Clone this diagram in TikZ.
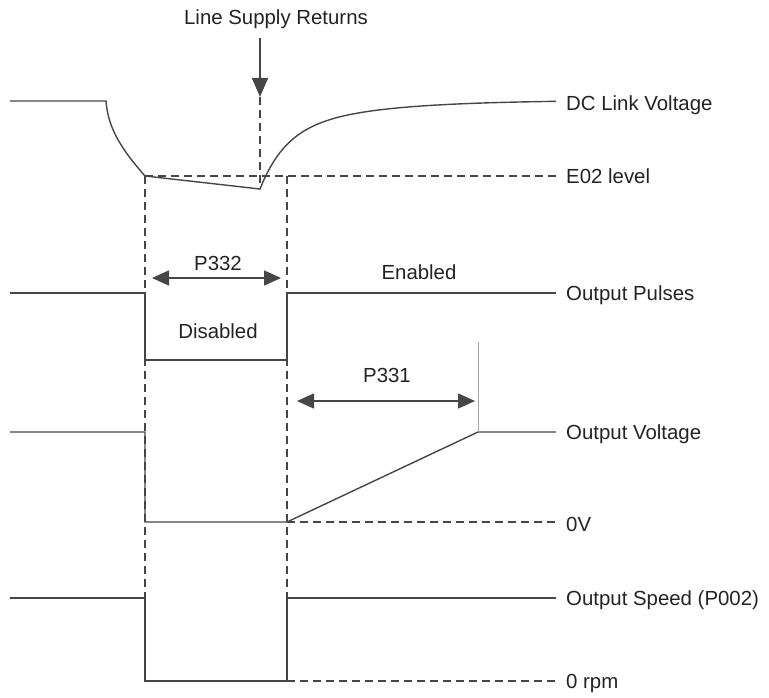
\documentclass[tikz,border=0pt]{standalone}
\usepackage{fontspec}
\setmainfont{Liberation Sans}
\usepackage{xcolor}
\definecolor{traceg}{RGB}{70,70,70}
\definecolor{labelg}{RGB}{35,35,35}
\usetikzlibrary{arrows.meta, positioning, calc}

\begin{document}
\begin{tikzpicture}[x=1pt, y=-1pt,
  trace/.style={draw=traceg, line width=1.4pt},
  guide/.style={draw=traceg, line width=1.2pt, dash pattern=on 8pt off 5pt},
  span/.style={draw=traceg, line width=1.6pt,
    {Triangle[length=17pt,width=15pt]}-{Triangle[length=17pt,width=15pt]}},
  lbl/.style={font=\fontsize{20.4}{24}\selectfont, text=labelg, inner sep=0pt}]
\useasboundingbox (0,0) rectangle (769,698);

% key instants
\coordinate (dcLow) at (145,176);
\coordinate (dcMin) at (260,189);
\coordinate (supTop) at (260,38);
\coordinate (supTip) at (260,97);
\coordinate (rampEnd) at (478,432);

% DC link voltage
\draw[trace] (10,101) -- (106,101) .. controls (108,130) and (124,152) .. (dcLow) -- (dcMin)
  -- plot[domain=260:556, samples=90]
     (\x, {100+89*(0.6*exp(-(\x-260)/25)+0.4*exp(-(\x-260)/90))});
\draw[guide] (dcLow) -- (556,176);

% line supply returns
\node[lbl, anchor=base] (supply) at (276,25) {Line Supply Returns};
\draw[trace, -{Triangle[length=19pt,width=16pt]}] (supTop) -- (supTip);
\draw[guide] (supTip) -- (dcMin);

% time markers
\draw[guide] (dcLow) -- (145,598);
\draw[guide] (287,176) -- (287,598);

% output pulses
\draw[trace] (10,293) -- (145,293) -- (145,360) -- (287,360) -- (287,293) -- (556,293);
\draw[span] (152,278) -- (281,278);
\node[lbl, anchor=base] (p332) at (218,270) {P332};
\node[lbl, anchor=base] (enabled) at (419,279) {Enabled};
\node[lbl, anchor=base] (disabled) at (218,338) {Disabled};

% output voltage
\draw[trace] (10,432) -- (145,432) -- (145,522) -- (287,522) -- (rampEnd) -- (556,432);
\draw[guide] (287,522) -- (556,522);
\draw[draw=gray!70, line width=0.9pt] (478,342) -- (rampEnd);
\draw[span] (297,401) -- (475,401);
\node[lbl, anchor=base] (p331) at (387,382) {P331};

% output speed
\draw[trace] (10,598) -- (145,598) -- (145,681) -- (287,681) -- (287,598) -- (556,598);
\draw[guide] (287,681) -- (556,681);

% signal names
\node[lbl, anchor=base west] (dclink) at (566,111) {DC Link Voltage};
\node[lbl, anchor=base west] (eo2) at (566,184) {E02 level};
\node[lbl, anchor=base west] (pulses) at (566,300) {Output Pulses};
\node[lbl, anchor=base west] (volt) at (566,439) {Output Voltage};
\node[lbl, anchor=base west] (zerov) at (566,531) {0V};
\node[lbl, anchor=base west] (speed) at (566,605) {Output Speed (P002)};
\node[lbl, anchor=base west] (zerorpm) at (566,688) {0 rpm};
\end{tikzpicture}
\end{document}
